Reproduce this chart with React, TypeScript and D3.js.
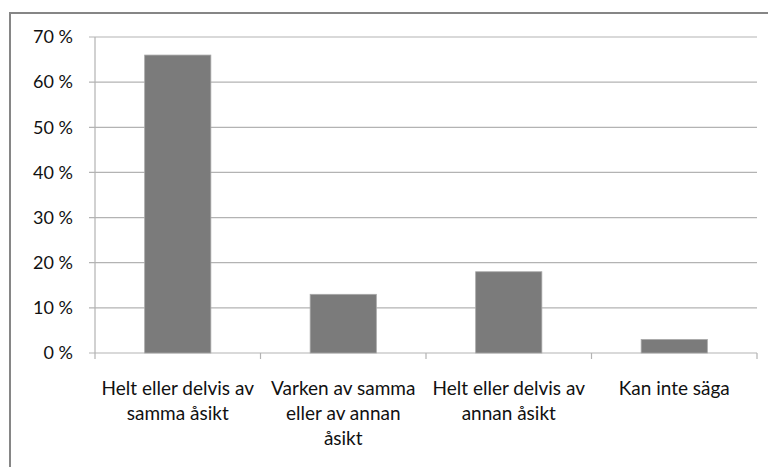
import React from 'react';
import * as d3 from 'd3';

const categories = [
  'Helt eller delvis av samma åsikt',
  'Varken av samma eller av annan åsikt',
  'Helt eller delvis av annan åsikt',
  'Kan inte säga',
];
// line breaks as they appear under each bar
const categoryLines = [
  ['Helt eller delvis av', 'samma åsikt'],
  ['Varken av samma', 'eller av annan', 'åsikt'],
  ['Helt eller delvis av', 'annan åsikt'],
  ['Kan inte säga'],
];
const values = [66, 13, 18, 3];
const yTicks = [0, 10, 20, 30, 40, 50, 60, 70];

const width = 768;
const height = 467;
const margin = { top: 37, right: 11, bottom: 114, left: 95 };
const font = 'Lato, "Open Sans", sans-serif';

const App = () => {
  const innerW = width - margin.left - margin.right;
  const innerH = height - margin.top - margin.bottom;

  const x = d3.scaleBand().domain(categories).range([0, innerW]).paddingInner(0).paddingOuter(0);
  const y = d3.scaleLinear().domain([0, 70]).range([innerH, 0]);
  const barW = x.bandwidth() / 2.5; // gap width 150%

  return (
    <div style={{ position: 'absolute', left: 0, top: 0 }}>
      <svg width={width} height={height} style={{ display: 'block' }}>
        <rect x={0} y={0} width={width} height={height} fill="#fff" />
        {/* chart frame, runs off the right and bottom */}
        <path d={`M10,${height + 5} V13 H${width + 5}`} fill="none" stroke="#868686" strokeWidth={2} />
        <g transform={`translate(${margin.left},${margin.top})`}>
          {yTicks.map((t) => (
            <g key={t}>
              <line x1={-6} x2={innerW} y1={y(t)} y2={y(t)} stroke="#b3b3b3" strokeWidth={1.2} />
              <text
                x={-22}
                y={y(t)}
                dy="0.35em"
                textAnchor="end"
                fontFamily={font}
                fontSize={18}
                fill="#111"
              >
                {`${t} %`}
              </text>
            </g>
          ))}
          <line x1={0} x2={0} y1={0} y2={innerH} stroke="#b3b3b3" strokeWidth={1.2} />
          {categories.map((c, i) => (
            <line
              key={'tk' + i}
              x1={x(c)}
              x2={x(c)}
              y1={innerH}
              y2={innerH + 6}
              stroke="#b3b3b3"
              strokeWidth={1.2}
            />
          ))}
          <line x1={innerW} x2={innerW} y1={innerH} y2={innerH + 6} stroke="#b3b3b3" strokeWidth={1.2} />
          {categories.map((c, i) => (
            <rect
              key={c}
              x={(x(c) ?? 0) + (x.bandwidth() - barW) / 2}
              y={y(values[i])}
              width={barW}
              height={innerH - y(values[i])}
              fill="#7b7b7b"
              stroke="#a8a8a8"
              strokeWidth={0.8}
            />
          ))}
          {categories.map((c, i) => (
            <text
              key={'lb' + i}
              textAnchor="middle"
              fontFamily={font}
              fontSize={19}
              fill="#111"
            >
              {categoryLines[i].map((ln, j) => (
                <tspan key={j} x={(x(c) ?? 0) + x.bandwidth() / 2} y={innerH + 42 + j * 25}>
                  {ln}
                </tspan>
              ))}
            </text>
          ))}
        </g>
      </svg>
    </div>
  );
};

export default App;
